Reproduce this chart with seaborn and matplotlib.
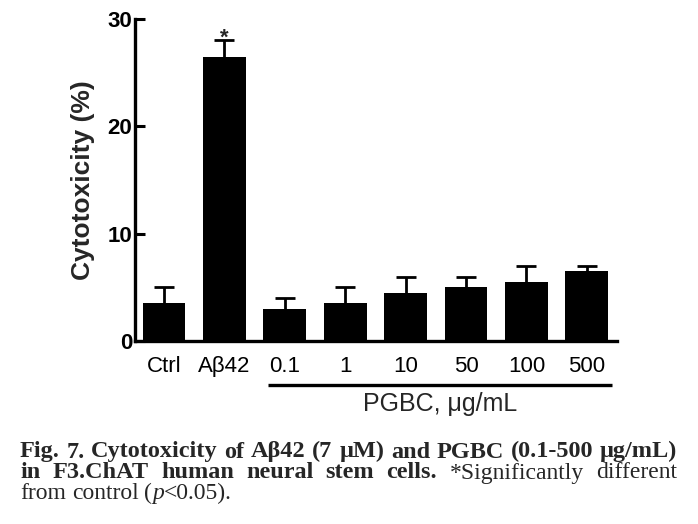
import matplotlib
matplotlib.use("Agg")
import matplotlib.pyplot as plt
import seaborn as sns
import pandas as pd
import numpy as np
from matplotlib.transforms import blended_transform_factory

# ---- data ----
categories = ["Ctrl", "Aβ42", "0.1", "1", "10", "50", "100", "500"]
cytotoxicity = [3.5, 26.5, 3.0, 3.5, 4.5, 5.0, 5.5, 6.5]
error_upper = [1.5, 1.5, 1.0, 1.5, 1.5, 1.0, 1.5, 0.5]
significant = ["Aβ42"]
group_members = ["0.1", "1", "10", "50", "100", "500"]
group_label = "PGBC, μg/mL"
y_label = "Cytotoxicity (%)"
y_ticks = [0, 10, 20, 30]

caption_lines = [
    [[("Fig.", "b")], [("7.", "b")], [("Cytotoxicity", "b")], [("of", "b")], [("Aβ42", "b")],
     [("(7", "b")], [("μM)", "b")], [("and", "b")], [("PGBC", "b")], [("(0.1-500", "b")], [("μg/mL)", "b")]],
    [[("in", "b")], [("F3.ChAT", "b")], [("human", "b")], [("neural", "b")], [("stem", "b")],
     [("cells.", "b")], [("*Significantly", "r")], [("different", "r")]],
    [[("from", "r")], [("control", "r")], [("(", "r"), ("p", "i"), ("<0.05).", "r")]],
]
caption_justify = [True, True, False]

# ---- style ----
sns.set_style("ticks")
plt.rcParams['font.family'] = ['Liberation Sans', 'DejaVu Sans']

W, H = 698, 524
fig = plt.figure(figsize=(W / 100, H / 100), dpi=100)
ax = fig.add_axes([135 / W, 1 - 341 / H, (617 - 135) / W, (341 - 19) / H])

df = pd.DataFrame({"group": categories, "value": cytotoxicity})
sns.barplot(data=df, x="group", y="value", order=categories, color="black",
            saturation=1, width=0.71, errorbar=None, ax=ax, linewidth=0)
for p in ax.patches:
    p.set_zorder(3)
pos = np.arange(len(categories))
_, caplines, _ = ax.errorbar(pos, cytotoxicity, yerr=[np.zeros(len(categories)), error_upper],
                             fmt='none', ecolor='black', elinewidth=2, capsize=7.5,
                             capthick=2, zorder=1)
if len(caplines) == 2:
    caplines[0].set_visible(False)  # hide the lower (zero-length) caps

ax.set_ylim(0, 30)
ax.set_xlim(-0.48, len(categories) - 0.5)
ax.set_yticks(y_ticks)
ax.set_yticklabels([str(t) for t in y_ticks], fontweight='bold', fontsize=16)
ax.tick_params(axis='y', direction='in', length=7, width=2.2, pad=2, colors='black')
ax.tick_params(axis='x', length=0, pad=11, labelsize=16, colors='black')
ax.set_xlabel("")
ax.set_ylabel(y_label, fontsize=19, fontweight='bold', va='center')
ax.yaxis.set_label_coords(-0.108, 0.5)
for s in ["top", "right"]:
    ax.spines[s].set_visible(False)
for s in ["left", "bottom"]:
    ax.spines[s].set_linewidth(2.4)
    ax.spines[s].set_color("black")
    ax.spines[s].set_zorder(4)

# significance marker
for cat in significant:
    i = categories.index(cat)
    ax.text(i, cytotoxicity[i] + error_upper[i] - 0.75, "*", ha='center', va='bottom',
            fontsize=16, fontweight='bold')

# group underline and label
trans = blended_transform_factory(ax.transData, ax.transAxes)
g0 = categories.index(group_members[0]) - 0.28
g1 = categories.index(group_members[-1]) + 0.42
ax.plot([g0, g1], [-0.137, -0.137], transform=trans, clip_on=False, lw=2.4, color='black',
        solid_capstyle='butt')
ax.text((g0 + g1) / 2, -0.195, group_label, transform=trans, ha='center', va='center',
        fontsize=18)

# ---- caption (justified) ----
fig.canvas.draw()
renderer = fig.canvas.get_renderer()
styles = {
    "b": dict(fontweight='bold', fontstyle='normal', fontsize=17.5),
    "r": dict(fontweight='normal', fontstyle='normal', fontsize=17),
    "i": dict(fontweight='normal', fontstyle='italic', fontsize=17),
}
cap_font = ['Liberation Serif', 'DejaVu Serif']


def piece_width(s, st):
    t = fig.text(0, 0, s, family=cap_font, **styles[st])
    w = t.get_window_extent(renderer).width
    t.remove()
    return w


space_w = piece_width("a a", "r") - piece_width("aa", "r")
x_left, x_right = 20, 677
baselines = [457.5, 478.5, 499]
for words, just, yb in zip(caption_lines, caption_justify, baselines):
    widths = [sum(piece_width(s, st) for s, st in w) for w in words]
    if just and len(words) > 1:
        gap = (x_right - x_left - sum(widths)) / (len(words) - 1)
    else:
        gap = space_w
    x = x_left
    for w, ww in zip(words, widths):
        xx = x
        for s, st in w:
            fig.text(xx / W, 1 - yb / H, s, family=cap_font,
                     ha='left', va='baseline', **styles[st])
            xx += piece_width(s, st)
        x += ww + gap

fig.savefig("out.png", dpi=100)
